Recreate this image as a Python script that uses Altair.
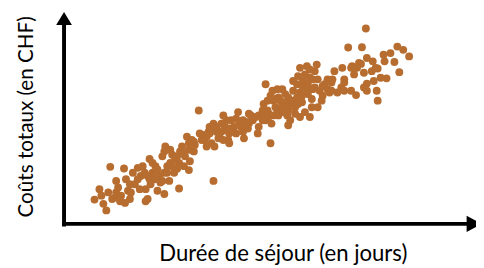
import altair as alt
import pandas as pd

# Durée de séjour (jours) and coûts totaux (CHF)
days = [3.1, 3.6, 4.0, 4.3, 4.5, 4.7, 4.9, 5.3, 5.5, 5.8, 6.1, 6.3, 6.5, 6.7, 7.0, 7.2, 7.5, 7.7, 7.8, 8.0,
        8.3, 8.5, 8.7, 8.8, 9.0, 9.2, 9.3, 9.5, 9.7, 9.8, 10.0, 10.2, 10.3, 10.5, 10.7, 10.8, 11.0, 11.2, 11.3, 11.5,
        11.7, 11.8, 12.0, 12.2, 12.5, 12.7, 12.8, 13.0, 13.2,
        5.7, 6.2, 8.3, 6.8, 13.3, 13.0, 13.2, 12.3, 3.8, 5.2, 8.2, 8.7, 10.2, 10.8, 11.7, 9.5, 9.0, 12.7,
        13.7, 15.2, 13.8, 14.3, 14.8, 15.0, 15.2, 15.5, 15.8, 16.0, 16.2, 16.5, 16.7, 16.8, 17.0, 17.3, 17.7, 17.8,
        18.3, 18.5, 19.0, 19.2, 19.5, 19.7, 19.8, 20.2, 20.3, 20.5, 20.8, 21.0, 21.1, 21.3, 21.7, 21.8, 22.2, 22.5,
        22.7, 22.8, 23.0,
        20.5, 21.2, 21.5, 22.2, 23.2, 23.3, 23.5, 14.2, 14.7, 15.3, 15.7, 16.3, 16.8, 17.5, 18.2, 18.8, 19.8, 20.7,
        20.8, 21.8, 22.5, 22.8, 23.0, 14.5, 16.8, 17.5, 18.2, 15.3, 18.8, 20.2,
        30.7, 28.9, 30.3, 33.9, 34.5, 35.1, 32.5, 33.2, 30.8, 31.4, 31.9, 32.6, 33.6, 28.3, 29.3, 30.0, 34.1, 32.8,
        30.2, 29.8, 31.3, 30.5, 29.5, 28.5, 27.5, 27.3, 26.5, 25.8, 25.7, 24.7, 24.5, 23.8, 23.7, 24.8, 25.3, 26.0,
        26.3, 26.8, 27.2, 27.8, 28.5, 29.2, 30.8, 30.5, 31.8, 31.9, 29.7, 28.5, 24.0, 24.7, 25.2, 23.8, 24.5, 24.0,
        25.0, 26.2, 27.0, 25.8, 26.3, 31.5, 32.2, 30.8, 24.3, 25.0, 25.5, 27.2, 28.2, 29.2, 31.7, 24.2, 25.2, 26.8,
        23.3, 23.7, 24.2, 23.5, 24.8, 25.3, 24.3, 22.8, 22.5, 25.5, 25.0, 24.0,
        20.7, 21.0, 21.5, 22.0, 22.3, 21.3, 20.3, 21.7,
        14.0, 14.5, 15.5, 16.0, 16.5, 17.2, 18.0, 18.7, 14.8, 16.2,
        9.3, 10.0, 10.5, 11.0, 11.5, 12.2, 12.7, 10.2, 8.5, 7.5, 6.7, 5.3]

costs = [3800, 5400, 3150, 2150, 4900, 8800, 3900, 6650, 5650, 4400, 8550, 6900, 5150, 3900, 7900, 6150, 8650, 5400, 7400, 8900,
         5400, 3900, 10000, 6150, 7900, 6900, 8900, 5150, 7400, 6400, 10400, 4650, 11900, 8900, 6650, 9400, 10650, 7900, 9900, 8500,
         5500, 11150, 11900, 8900, 13400, 8300, 9650, 11400, 12650,
         3550, 3300, 3550, 4900, 12150, 12900, 11150, 10400, 4400, 4150, 7900, 6900, 7900, 11400, 9400, 8400, 9400, 11400,
         17400, 6650, 13900, 12900, 14900, 12400, 15400, 14150, 13400, 15400, 16650, 14400, 12900, 12400, 15900, 14900, 17150, 15400,
         13150, 15650, 16650, 15900, 16400, 13900, 14900, 17400, 18400, 15900, 16900, 12400, 15400, 18900, 17400, 19400, 18150, 19900,
         16650, 15150, 18400,
         21400, 20400, 19150, 20650, 18900, 20400, 16900, 13650, 14150, 14650, 13150, 15150, 13900, 13900, 14150, 16900, 16650, 17400,
         16400, 16650, 18650, 17400, 15900, 11900, 14650, 16150, 15900, 11900, 15400, 15900,
         29900, 27000, 27050, 27150, 26650, 25650, 25900, 26150, 25400, 24900, 23800, 24900, 24800, 23900, 24150, 24650, 23250, 22300,
         24500, 23900, 23400, 23150, 22900, 22150, 23400, 22150, 21400, 22150, 24400, 24150, 22900, 22650, 21400, 21400, 20650, 20400,
         21150, 20650, 20400, 20150, 20400, 20400, 21500, 20900, 20400, 18900, 19750, 21650, 20150, 20650, 19150, 18400, 17150, 16400,
         16400, 18900, 20150, 17900, 19650, 21900, 22400, 20400, 21900, 22400, 20900, 21650, 20900, 23900, 23900, 19650, 17900, 22150,
         21900, 19400, 18650, 17900, 19900, 22150, 20900, 19400, 17900, 23400, 23650, 23900,
         18900, 19650, 17900, 18900, 17150, 16650, 16900, 20650,
         12900, 13400, 14900, 14150, 15900, 14150, 14900, 14650, 13900, 12900,
         7650, 6650, 7900, 8900, 10400, 10900, 12400, 11150, 7400, 6900, 6150, 4900]

x_title = "Durée de séjour (en jours)"
y_title = "Coûts totaux (en CHF)"

X_DOM = [-5.7, 41.9]
Y_DOM = [-6300, 32700]

xs = alt.Scale(domain=X_DOM, nice=False, zero=False)
ys = alt.Scale(domain=Y_DOM, nice=False, zero=False)

pts = pd.DataFrame({"d": days, "c": costs})

points = alt.Chart(pts).mark_circle(size=64, opacity=1, color="#b76d30").encode(
    x=alt.X("d:Q", scale=xs, axis=None),
    y=alt.Y("c:Q", scale=ys, axis=None),
)

axes_df = pd.DataFrame({
    "x": [0.0, -0.2], "x2": [0.0, 41.5],
    "y": [-300.0, 100.0], "y2": [31300.0, 100.0],
})
axes = alt.Chart(axes_df).mark_rule(color="black", strokeWidth=4).encode(
    x=alt.X("x:Q", scale=xs, axis=None), x2="x2:Q",
    y=alt.Y("y:Q", scale=ys, axis=None), y2="y2:Q",
)

arrow_up = alt.Chart(pd.DataFrame({"x": [0.0], "y": [31425.0]})).mark_point(
    shape="M0,-0.82L1,0.82L-1,0.82Z", size=256, filled=True, opacity=1, color="black", strokeWidth=0
).encode(x=alt.X("x:Q", scale=xs, axis=None), y=alt.Y("y:Q", scale=ys, axis=None))

arrow_right = alt.Chart(pd.DataFrame({"x": [41.7], "y": [100.0]})).mark_point(
    shape="M0.9,0L-0.9,-1L-0.9,1Z", size=280, filled=True, opacity=1, color="black", strokeWidth=0
).encode(x=alt.X("x:Q", scale=xs, axis=None), y=alt.Y("y:Q", scale=ys, axis=None))

xt = alt.Chart(pd.DataFrame({"x": [22.3], "y": [-5550.0], "t": [x_title]})).mark_text(
    font="Lato", fontSize=22.5, color="black", align="center", baseline="alphabetic"
).encode(x=alt.X("x:Q", scale=xs, axis=None), y=alt.Y("y:Q", scale=ys, axis=None), text="t:N")

yt = alt.Chart(pd.DataFrame({"x": [-3.2], "y": [16425.0], "t": [y_title]})).mark_text(
    font="Lato", fontSize=21, color="black", align="center", baseline="alphabetic", angle=270
).encode(x=alt.X("x:Q", scale=xs, axis=None), y=alt.Y("y:Q", scale=ys, axis=None), text="t:N")

chart = alt.layer(points, axes, arrow_up, arrow_right, xt, yt).properties(
    width=476, height=260, padding=0, autosize=alt.AutoSizeParams(type="none")
).configure_view(stroke=None)

chart.save("out.html", embed_options={"renderer": "svg", "actions": False})
